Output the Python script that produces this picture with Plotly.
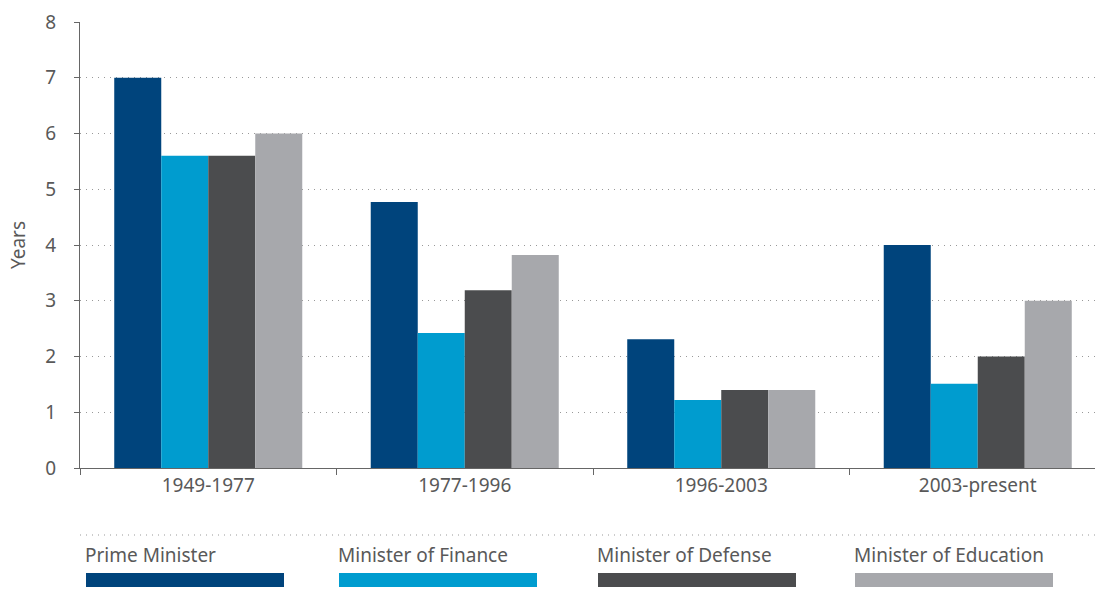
import plotly.graph_objects as go

# Average tenure (years) by period and office
periods = ["1949-1977", "1977-1996", "1996-2003", "2003-present"]
offices = ["Prime Minister", "Minister of Finance", "Minister of Defense", "Minister of Education"]
prime_minister = [7.0, 4.77, 2.31, 4.0]
finance = [5.6, 2.42, 1.22, 1.51]
defense = [5.6, 3.19, 1.40, 2.0]
education = [6.0, 3.82, 1.40, 3.0]
year_ticks = [0, 1, 2, 3, 4, 5, 6, 7, 8]

colors = ["#00447C", "#009CCF", "#4B4C4E", "#A7A8AC"]
series = [prime_minister, finance, defense, education]

W, H = 1095, 590
ML, MR, MT, MB = 80, 0, 22, 122
plot_w = W - ML - MR
plot_h = H - MT - MB

FONT = "Noto Sans"
TXT = "#595959"
FS = 19

fig = go.Figure()
for name, vals, col in zip(offices, series, colors):
    fig.add_trace(go.Bar(x=periods, y=vals, name=name, marker_color=col,
                         marker_line_width=0, showlegend=False))


def px_x(x):
    return (x - ML) / plot_w


def px_y(y):
    return (H - MB - y) / plot_h


# Custom legend below the axis: dotted rule, label text and a wide swatch per office
shapes = [dict(type="line", xref="paper", yref="paper",
               x0=0, x1=1, y0=px_y(535), y1=px_y(535),
               line=dict(color="#999999", width=1, dash="1px,5px"))]
annotations = []
legend_left = [86, 339, 598, 855]
for name, col, left in zip(offices, colors, legend_left):
    shapes.append(dict(type="rect", xref="paper", yref="paper",
                       x0=px_x(left), x1=px_x(left + 198),
                       y0=px_y(587), y1=px_y(573),
                       fillcolor=col, line_width=0))
    annotations.append(dict(text=name, xref="paper", yref="paper",
                            x=px_x(left - 3), y=px_y(555), xanchor="left", yanchor="middle",
                            showarrow=False, font=dict(family=FONT, size=FS, color=TXT)))

# Category width is ~256.5 px; the right edge of the last band runs past the frame
span = plot_w / 256.5
fig.update_layout(
    width=W, height=H, autosize=False,
    margin=dict(l=ML, r=MR, t=MT, b=MB),
    paper_bgcolor="white", plot_bgcolor="white",
    barmode="group", bargap=0.267, bargroupgap=0,
    font=dict(family=FONT, size=FS, color=TXT),
    shapes=shapes, annotations=annotations,
    xaxis=dict(range=[-0.5, -0.5 + span], showline=True, linecolor="#666666", linewidth=1,
               ticks="outside", tickson="boundaries", ticklen=6, tickcolor="#666666",
               showgrid=False, tickfont=dict(family=FONT, size=FS, color=TXT)),
    yaxis=dict(range=[0, 8], tickvals=year_ticks, showline=True, linecolor="#666666", linewidth=1,
               ticks="outside", ticklen=5, tickcolor="#666666",
               showgrid=True, gridcolor="#999999", gridwidth=1, griddash="1px,5px",
               zeroline=False, ticklabelstandoff=14,
               tickfont=dict(family=FONT, size=FS, color=TXT),
               title=dict(text="Years", standoff=14, font=dict(family=FONT, size=FS, color=TXT))),
)

fig.write_html("out.html")
